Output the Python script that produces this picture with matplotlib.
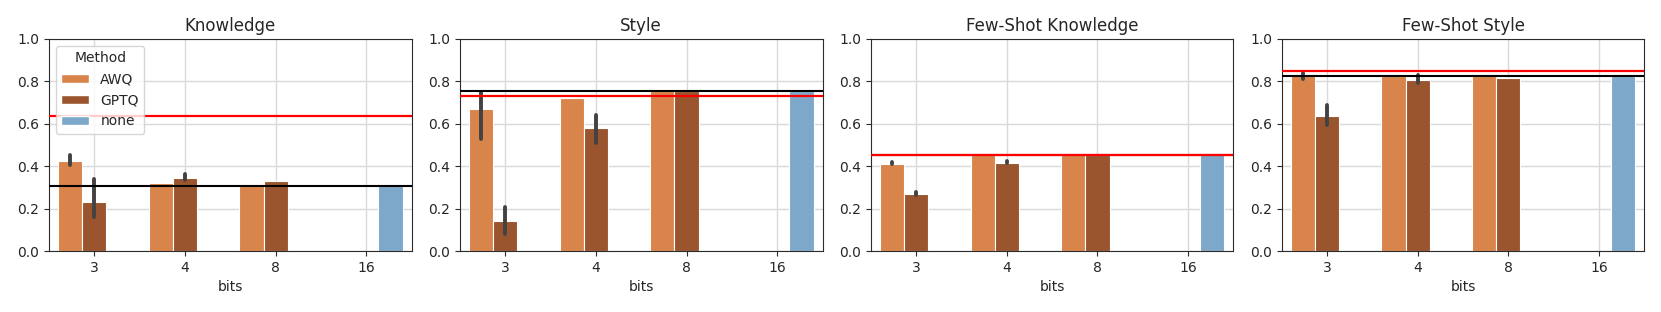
import numpy as np
import matplotlib.pyplot as plt
from matplotlib.patches import Patch

plt.rcParams["font.size"] = 10
plt.rcParams["axes.edgecolor"] = "#2b2b2b"
plt.rcParams["xtick.color"] = "#2b2b2b"
plt.rcParams["ytick.color"] = "#2b2b2b"
plt.rcParams["text.color"] = "#262626"
plt.rcParams["axes.labelcolor"] = "#262626"
plt.rcParams["xtick.labelcolor"] = "#262626"
plt.rcParams["ytick.labelcolor"] = "#262626"

#=====================#
titles = ["Knowledge", "Style", "Few-Shot Knowledge", "Few-Shot Style"]
bits = ["3", "4", "8", "16"]
methods = ["AWQ", "GPTQ", "none"]
colors = ["#d8844b", "#9a552f", "#7da8c9"]

# bar heights per panel: AWQ at 3,4,8 ; GPTQ at 3,4,8 ; none at 16
awq = [[0.423, 0.321, 0.305],
       [0.671, 0.723, 0.756],
       [0.412, 0.451, 0.451],
       [0.825, 0.825, 0.825]]
gptq = [[0.231, 0.344, 0.329],
        [0.143, 0.580, 0.756],
        [0.269, 0.417, 0.451],
        [0.638, 0.805, 0.814]]
none = [0.305, 0.756, 0.451, 0.825]

# error bar ranges (low, high); None = no visible bar
awq_err = [[(0.405, 0.455), None, None],
           [(0.53, 0.752), None, None],
           [(0.410, 0.419), None, None],
           [(0.813, 0.840), None, None]]
gptq_err = [[(0.162, 0.340), (0.335, 0.365), None],
            [(0.082, 0.209), (0.511, 0.642), None],
            [(0.266, 0.276), (0.415, 0.424), None],
            [(0.593, 0.689), (0.794, 0.829), None]]

black_line = [0.307, 0.756, 0.451, 0.825]
red_line = [0.638, 0.733, 0.451, 0.851]
#=====================#

fig, axes = plt.subplots(1, 4, figsize=(16.61, 3.12), dpi=100)
fig.subplots_adjust(left=0.0295, right=0.990, top=0.875, bottom=0.1955, wspace=0.133)

w = 0.8 / 3
x = np.arange(len(bits))

for k, ax in enumerate(axes):
    ax.set_axisbelow(True)
    ax.grid(True, color="#d9d9d9", lw=1)
    ax.bar(x[:3] - w, awq[k], width=w, color=colors[0], edgecolor="white", lw=0.8, zorder=2)
    ax.bar(x[:3], gptq[k], width=w, color=colors[1], edgecolor="white", lw=0.8, zorder=2)
    ax.bar(x[3] + w, none[k], width=w, color=colors[2], edgecolor="white", lw=0.8, zorder=2)

    for i in range(3):
        if awq_err[k][i] is not None:
            lo, hi = awq_err[k][i]
            ax.plot([x[i] - w, x[i] - w], [lo, hi], color="#424242", lw=2.8,
                    solid_capstyle="round", zorder=3)
        if gptq_err[k][i] is not None:
            lo, hi = gptq_err[k][i]
            ax.plot([x[i], x[i]], [lo, hi], color="#424242", lw=2.8,
                    solid_capstyle="round", zorder=3)

    ax.axhline(black_line[k], color="black", lw=1.5, zorder=4)
    ax.axhline(red_line[k], color="red", lw=1.6, zorder=4)

    ax.set_xlim(-0.5, 3.5)
    ax.set_ylim(0, 1.0)
    ax.set_xticks(x)
    ax.set_xticklabels(bits)
    ax.set_yticks(np.arange(0, 1.01, 0.2))
    ax.set_xlabel("bits")
    ax.set_title(titles[k], fontsize=12)

handles = [Patch(facecolor=c, edgecolor="white", label=m) for c, m in zip(colors, methods)]
axes[0].legend(handles=handles, title="Method", loc="upper left")

fig.savefig("out.png")
